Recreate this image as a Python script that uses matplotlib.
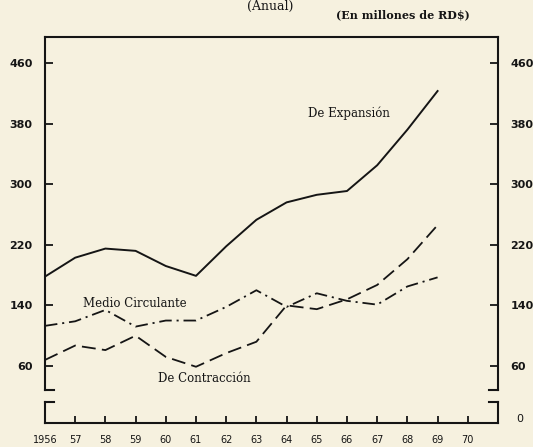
import numpy as np
import matplotlib
matplotlib.use("Agg")
import matplotlib.pyplot as plt

# valores (millones de RD$)
years = [1956, 1957, 1958, 1959, 1960, 1961, 1962, 1963, 1964, 1965, 1966, 1967, 1968, 1969]
de_expansion = [178, 203, 215, 212, 192, 179, 218, 253, 276, 286, 291, 325, 372, 423]
medio_circulante = [113, 119, 134, 112, 120, 120, 138, 160, 138, 156, 146, 141, 165, 177]
de_contraccion = [68, 87, 81, 100, 72, 59, 77, 92, 140, 135, 148, 167, 201, 246]

y_ticks = [60, 140, 220, 300, 380, 460]
x_ticks = list(range(1956, 1971))
x_tick_labels = ['1956'] + [str(y)[2:] for y in x_ticks[1:]]

bg = '#f6f1df'
ink = '#151515'
plt.rcParams['lines.scale_dashes'] = False

fig = plt.figure(figsize=(5.33, 4.47), dpi=100, facecolor=bg)

# panel superior
ax = fig.add_axes([0.0844, 0.1275, 0.8499, 0.7897])
ax.set_facecolor(bg)
ax.plot(years, de_expansion, color=ink, lw=1.4)
ax.plot(years, medio_circulante, color=ink, lw=1.3, dashes=(9, 3.5, 1.5, 3.5))
ax.plot(years, de_contraccion, color=ink, lw=1.3, dashes=(10, 4.5))
ax.set_xlim(1956, 1971)
ax.set_ylim(28.3, 494.3)
ax.set_xticks([])
ax.set_yticks(y_ticks)
ax.tick_params(axis='y', direction='in', length=6, width=1.3, left=True, right=True,
               labelleft=True, labelright=True, pad=9, labelsize=8, colors=ink)
for lab in ax.get_yticklabels():
    lab.set_fontweight('bold')
ax.spines['bottom'].set_visible(False)
for s in ['top', 'left', 'right']:
    ax.spines[s].set_linewidth(1.5)
    ax.spines[s].set_color(ink)
# esquinas inferiores
ax.plot([0, 0.02], [0, 0], transform=ax.transAxes, color=ink, lw=1.5, clip_on=False)
ax.plot([0.98, 1], [0, 0], transform=ax.transAxes, color=ink, lw=1.5, clip_on=False)

ax.text(1964.71, 394, 'De Expansión', fontsize=8.5, family='DejaVu Serif', color=ink, va='center')
ax.text(1957.25, 143, 'Medio Circulante', fontsize=8.5, family='DejaVu Serif', color=ink, va='center')
ax.text(1959.74, 44, 'De Contracción', fontsize=8.5, family='DejaVu Serif', color=ink, va='center')

# panel inferior (cero)
ax2 = fig.add_axes([0.0844, 0.0537, 0.8499, 0.047])
ax2.set_facecolor(bg)
ax2.set_xlim(1956, 1971)
ax2.set_ylim(-1, 3.2)
ax2.set_xticks(x_ticks)
ax2.set_xticklabels(x_tick_labels)
ax2.tick_params(axis='x', direction='in', length=5, width=1.3, pad=9, labelsize=7, colors=ink)
ax2.set_yticks([0])
ax2.tick_params(axis='y', left=False, right=False, labelleft=False, labelright=True,
                pad=10, labelsize=8, colors=ink)
ax2.spines['top'].set_visible(False)
for s in ['bottom', 'left', 'right']:
    ax2.spines[s].set_linewidth(1.5)
    ax2.spines[s].set_color(ink)
ax2.plot([0, 0.02], [1, 1], transform=ax2.transAxes, color=ink, lw=1.5, clip_on=False)
ax2.plot([0.98, 1], [1, 1], transform=ax2.transAxes, color=ink, lw=1.5, clip_on=False)

fig.text(0.507, 0.999, '(Anual)', ha='center', va='top', fontsize=9, family='DejaVu Serif', color=ink)
fig.text(0.755, 0.966, '(En millones de RD$)', ha='center', va='center', fontsize=8,
         family='DejaVu Serif', fontweight='bold', color=ink)

fig.savefig('out.png', dpi=100, facecolor=bg)
